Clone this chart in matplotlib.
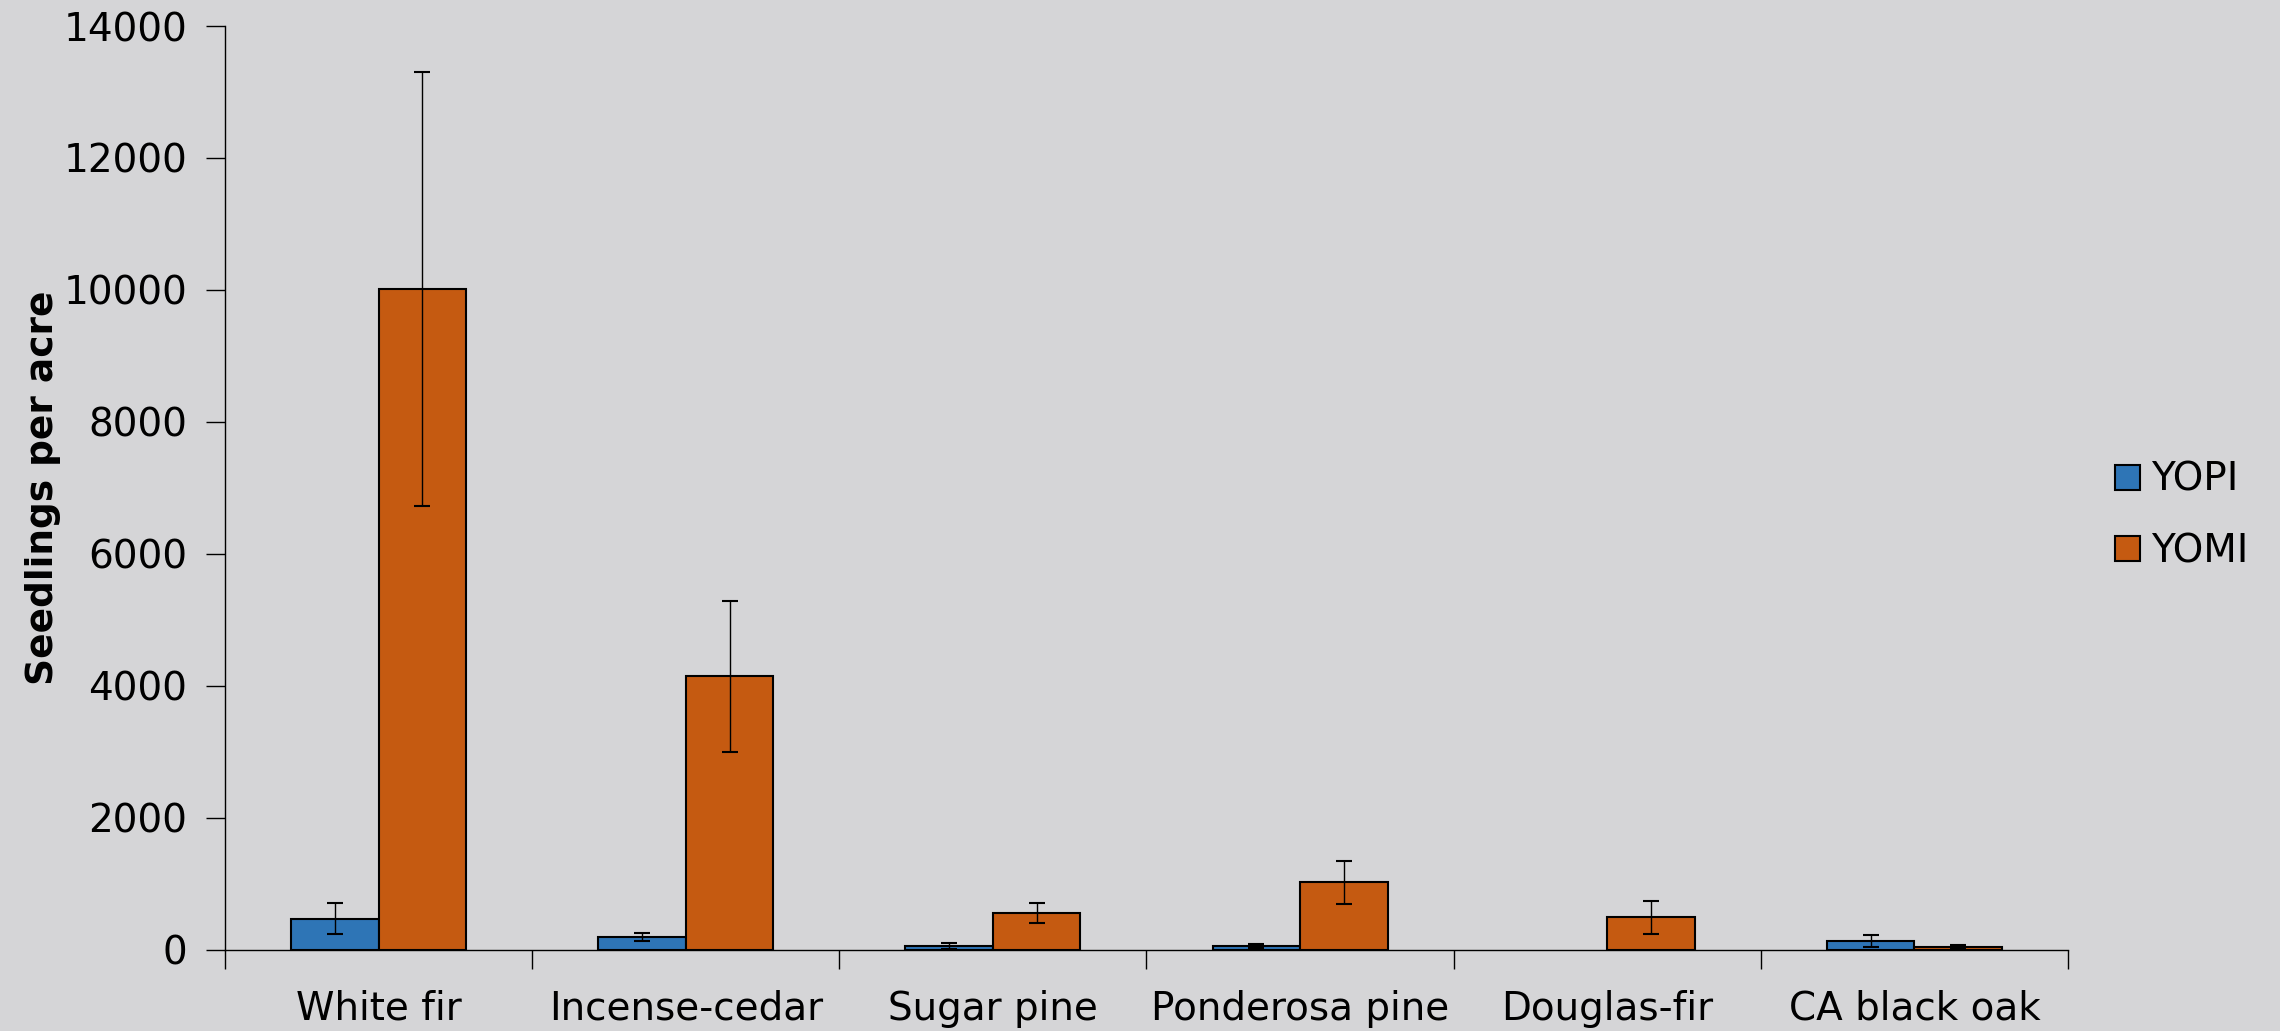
"""
Seedlings per acre by species, YOPI vs YOMI
"""

import numpy as np
import matplotlib
matplotlib.use('Agg')
import matplotlib.pyplot as plt

# данные
species = ['White fir', 'Incense-cedar', 'Sugar pine',
           'Ponderosa pine', 'Douglas-fir', 'CA black oak']
series_names = ['YOPI', 'YOMI']
yopi = [465, 187, 50, 60, 0, 130]
yopi_err = [235, 60, 45, 30, 0, 90]
yomi = [10020, 4140, 555, 1020, 494, 45]
yomi_err = [3290, 1150, 155, 325, 250, 30]
y_ticks = [0, 2000, 4000, 6000, 8000, 10000, 12000, 14000]

BG = '#d5d5d7'
COLORS = ['#2e75b6', '#c55a11']

plt.rcParams['font.family'] = ['DejaVu Sans']

fig = plt.figure(figsize=(22.8, 10.31), dpi=100, facecolor=BG)
ax = fig.add_axes([225 / 2280, 1 - 949.6 / 1031, (2068 - 225) / 2280,
                   (949.6 - 26) / 1031])
ax.set_facecolor(BG)

x = np.arange(len(species))
w = 0.285
err_kw = dict(ecolor='black', elinewidth=1.0, capsize=6, capthick=1.5)
for i, (vals, errs) in enumerate([(yopi, yopi_err), (yomi, yomi_err)]):
    cont = ax.bar(x + (i - 0.5) * w, vals, w, color=COLORS[i],
                  edgecolor='black', linewidth=1.5, label=series_names[i])
    # пустые столбцы (нулевые значения) не рисуем вообще
    keep = [j for j, v in enumerate(vals) if v > 0]
    for j, patch in enumerate(cont.patches):
        if vals[j] <= 0:
            patch.set_visible(False)
    ax.errorbar([x[j] + (i - 0.5) * w for j in keep], [vals[j] for j in keep],
                yerr=[errs[j] for j in keep], fmt='none', **err_kw)

ax.set_xlim(-0.5, len(species) - 0.5)
ax.set_ylim(0, 14000)
ax.set_yticks(y_ticks)
ax.set_yticklabels([str(v) for v in y_ticks], fontsize=28)

# метки категорий по центру, риски на границах групп
ax.set_xticks(x)
ax.set_xticklabels(species, fontsize=28)
ax.set_xticks(np.arange(len(species) + 1) - 0.5, minor=True)
ax.tick_params(axis='x', which='major', length=0, pad=29)
ax.tick_params(axis='x', which='minor', length=14, width=1, direction='out')
ax.tick_params(axis='y', length=14, width=1, direction='out', pad=13)

for side in ['top', 'right']:
    ax.spines[side].set_visible(False)
ax.spines['left'].set_linewidth(1)
ax.spines['bottom'].set_linewidth(1)

ax.set_ylabel('Seedlings per acre', fontsize=27, fontweight='bold', labelpad=2)

fig.legend(loc='center left', bbox_to_anchor=(2096 / 2280, 0.5),
           frameon=False, fontsize=28, handlelength=0.62, handleheight=0.62,
           handletextpad=0.3, labelspacing=0.85, borderpad=0)

fig.savefig('out.png', dpi=100, facecolor=BG)
